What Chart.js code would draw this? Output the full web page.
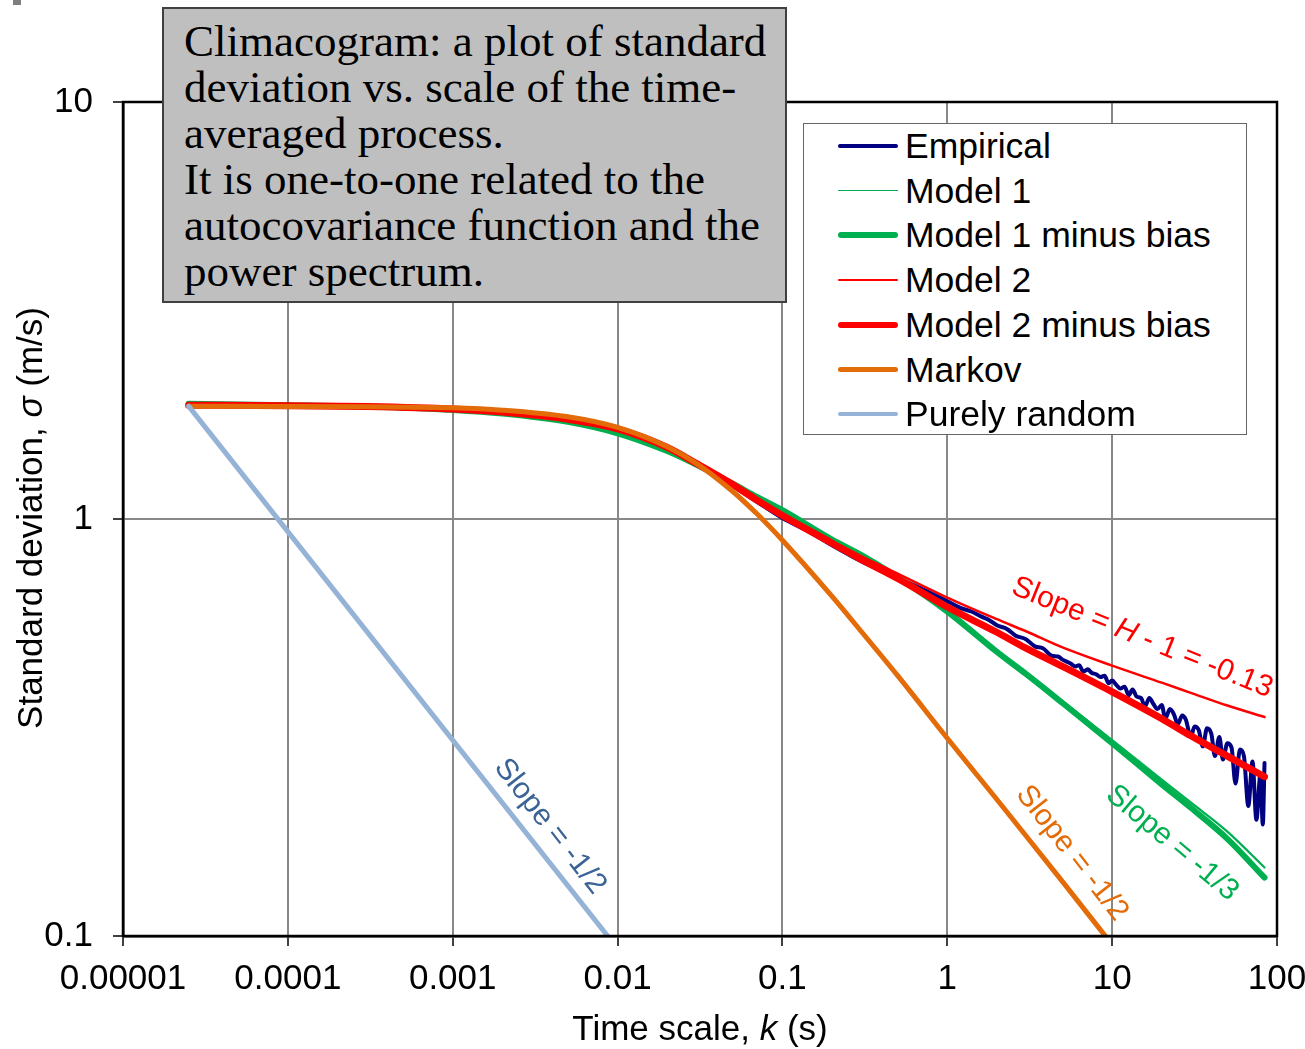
<!DOCTYPE html>
<html>
<head>
<meta charset="utf-8">
<script src="https://cdn.jsdelivr.net/npm/chart.js@4.4.1/dist/chart.umd.min.js"></script>
<style>
  body { margin: 0; background: #fff; }
  #wrap { position: relative; width: 1305px; height: 1049px; overflow: hidden; font-family: "Liberation Sans", Arial, sans-serif; }
  #c { position: absolute; left: 0; top: 0; }
  .note {
    position: absolute; left: 162px; top: 7px; width: 625px; height: 296px; box-sizing: border-box;
    background: #bfbfbf; border: 2px solid #404040;
    font-family: "Liberation Serif", serif; font-size: 45px; line-height: 46px; color: #000;
    padding: 9px 0 0 20px; white-space: nowrap;
  }
  .legend {
    position: absolute; left: 803px; top: 123px; width: 444px; height: 312px; box-sizing: border-box;
    background: #fff; border: 1.5px solid #666;
  }
  .legend .row { position: absolute; left: 0; height: 44px; line-height: 44px; font-size: 35.5px; }
  .legend .swatch { position: absolute; left: 34px; width: 60px; border-radius: 3px; }
  .legend .lbl { position: absolute; left: 101px; top: 0; white-space: nowrap; }
  .axis-title { position: absolute; font-size: 35px; line-height: 44px; height: 44px; text-align: center; white-space: nowrap; }
  .corner { position: absolute; left: 13px; top: 0; width: 8px; height: 5px; background: #7f7f7f; }
</style>
</head>
<body>
<div id="wrap">
  <canvas id="c" width="1305" height="1049"></canvas>
  <div class="corner"></div>
  <div class="note">Climacogram: a plot of standard<br>deviation vs. scale of the time-<br>averaged process.<br>It is one-to-one related to the<br>autocovariance function and the<br>power spectrum.</div>
  <div class="legend" id="legend"></div>
  <div class="axis-title" style="left:400px; top:1006px; width:600px;">Time scale, <i>k</i> (s)</div>
  <div class="axis-title" style="left:-270px; top:496px; width:600px; transform: rotate(-90deg);">Standard deviation, <i>σ</i> (m/s)</div>
</div>
<script>
// axis ticks
const xTicks = [1e-5, 1e-4, 1e-3, 1e-2, 1e-1, 1, 10, 100];
const xTickLabels = ['0.00001', '0.0001', '0.001', '0.01', '0.1', '1', '10', '100'];
const yTicks = [0.1, 1, 10];
const yTickLabels = ['0.1', '1', '10'];

// empirical climacogram
const scaleEmp = [2.5e-5, 1e-4, 3e-4, 1e-3, 2e-3, 4e-3, 7e-3, 0.01, 0.015, 0.02, 0.03, 0.04, 0.05, 0.07,
  0.1, 0.15, 0.2, 0.3, 0.4, 0.5, 0.7, 1, 1.2, 1.4, 1.6, 1.8, 2, 2.3, 2.6, 3, 3.4, 3.8, 4.3, 4.7,
  5, 5.3, 5.6, 6, 6.3, 6.7, 7.1, 7.5, 8, 8.5, 9, 9.5, 10, 10.6, 11.2, 11.9, 12.6, 13.3, 14.1, 15, 15.8,
  16.8, 17.8, 18.8, 20, 21, 22.4, 23.7, 25, 26.6, 28, 30, 31.6, 33.5, 35.5, 37.6, 40, 42, 44.7, 47, 50,
  53, 56, 59.6, 63, 67, 71, 75, 79.4, 82, 84];
const sigmaEmp = [1.875, 1.87, 1.86, 1.835, 1.805, 1.75, 1.69, 1.64, 1.555, 1.48, 1.355, 1.27, 1.2, 1.1,
  1.005, 0.925, 0.865, 0.792, 0.752, 0.722, 0.68, 0.635, 0.612, 0.6, 0.584, 0.572, 0.556, 0.545, 0.525, 0.515, 0.495, 0.49, 0.47, 0.468,
  0.46, 0.455, 0.45, 0.443, 0.446, 0.43, 0.436, 0.428, 0.424, 0.418, 0.421, 0.404, 0.41, 0.4, 0.392, 0.396, 0.378, 0.39, 0.375, 0.372, 0.355,
  0.372, 0.36, 0.35, 0.358, 0.332, 0.35, 0.34, 0.322, 0.338, 0.33, 0.3, 0.318, 0.312, 0.285, 0.315, 0.305, 0.27, 0.3, 0.265, 0.29,
  0.283, 0.232, 0.28, 0.27, 0.205, 0.262, 0.19, 0.245, 0.185, 0.26];

// fitted models
const scaleModel = [2.5e-5, 1e-4, 3e-4, 1e-3, 2e-3, 5e-3, 0.01, 0.02, 0.03, 0.05, 0.07, 0.1, 0.2, 0.3, 0.5, 1, 2, 3, 5, 10, 20, 30, 50, 84];
const sigmaModel1 = [1.89, 1.875, 1.86, 1.825, 1.79, 1.71, 1.605, 1.455, 1.35, 1.215, 1.13, 1.05, 0.895, 0.822, 0.728, 0.602, 0.483, 0.428, 0.366, 0.295, 0.237, 0.209, 0.178, 0.146];
const sigmaModel1MinusBias = [1.89, 1.875, 1.86, 1.825, 1.79, 1.71, 1.605, 1.455, 1.35, 1.215, 1.13, 1.05, 0.893, 0.82, 0.725, 0.6, 0.48, 0.425, 0.362, 0.29, 0.231, 0.203, 0.171, 0.138];
const sigmaModel2 = [1.875, 1.87, 1.86, 1.835, 1.805, 1.735, 1.645, 1.485, 1.365, 1.215, 1.115, 1.025, 0.885, 0.815, 0.74, 0.648, 0.575, 0.538, 0.492, 0.445, 0.405, 0.383, 0.357, 0.335];
const sigmaModel2MinusBias = [1.875, 1.87, 1.86, 1.835, 1.805, 1.735, 1.645, 1.485, 1.36, 1.21, 1.11, 1.02, 0.875, 0.8, 0.72, 0.615, 0.535, 0.49, 0.443, 0.385, 0.332, 0.302, 0.27, 0.241];

const scaleMarkov = [2.5e-5, 1e-4, 3e-4, 1e-3, 2e-3, 5e-3, 0.01, 0.02, 0.03, 0.05, 0.07, 0.1, 0.2, 0.3, 0.5, 1, 2, 3, 5, 10];
const sigmaMarkov = [1.865, 1.862, 1.858, 1.848, 1.824, 1.758, 1.658, 1.49, 1.36, 1.164, 1.029, 0.889, 0.652, 0.538, 0.421, 0.298, 0.2125, 0.174, 0.135, 0.0953];

const scaleRandom = [2.5e-5, 0.01];
const sigmaRandom = [1.865, 0.0933];

// slope labels, placed at data coordinates
const slopeNotes = [
  { x: 0.00389, y: 0.183, angle: 52, color: '#3b6396', parts: [['Slope = -1/2', false]] },
  { x: 5.7, y: 0.158, angle: 52, color: '#e36c09', parts: [['Slope = -1/2', false]] },
  { x: 23.1, y: 0.167, angle: 40, color: '#00b050', parts: [['Slope = -1/3', false]] },
  { x: 15.2, y: 0.519, angle: 22, color: '#ff0000', parts: [['Slope = ', false], ['H', true], [' - 1 = -0.13', false]] },
];

const pts = (xs, ys) => xs.map((x, i) => ({ x: x, y: ys[i] }));

const datasets = [
  { label: 'Empirical', data: pts(scaleEmp, sigmaEmp), borderColor: '#000080', borderWidth: 4, order: 6, legendWidth: 3.5 },
  { label: 'Model 1', data: pts(scaleModel, sigmaModel1), borderColor: '#00b050', borderWidth: 2.25, order: 5, legendWidth: 1.5 },
  { label: 'Model 1 minus bias', data: pts(scaleModel, sigmaModel1MinusBias), borderColor: '#00b050', borderWidth: 6, order: 4, legendWidth: 6 },
  { label: 'Model 2', data: pts(scaleModel, sigmaModel2), borderColor: '#ff0000', borderWidth: 2.5, order: 3, legendWidth: 2 },
  { label: 'Model 2 minus bias', data: pts(scaleModel, sigmaModel2MinusBias), borderColor: '#ff0000', borderWidth: 7, order: 2, legendWidth: 6 },
  { label: 'Markov', data: pts(scaleMarkov, sigmaMarkov), borderColor: '#e36c09', borderWidth: 5, order: 1, legendWidth: 4.5 },
  { label: 'Purely random', data: pts(scaleRandom, sigmaRandom), borderColor: '#95b3d7', borderWidth: 5, order: 0, legendWidth: 4.5 },
];
datasets.forEach(d => {
  d.pointRadius = 0;
  d.fill = false;
  d.cubicInterpolationMode = 'monotone';
  d.borderCapStyle = 'round';
  d.borderJoinStyle = 'round';
});

// legend built from the datasets
const legend = document.getElementById('legend');
datasets.forEach((d, i) => {
  const row = document.createElement('div');
  row.className = 'row';
  row.style.top = (0 + 44.7 * i) + 'px';
  row.style.width = '440px';
  const sw = document.createElement('div');
  sw.className = 'swatch';
  sw.style.background = d.borderColor;
  sw.style.height = d.legendWidth + 'px';
  sw.style.top = (22 - d.legendWidth / 2) + 'px';
  const lbl = document.createElement('div');
  lbl.className = 'lbl';
  lbl.textContent = d.label;
  row.appendChild(sw);
  row.appendChild(lbl);
  legend.appendChild(row);
});

const framePlugin = {
  id: 'frame',
  afterDatasetsDraw(chart) {
    const ctx = chart.ctx;
    const a = chart.chartArea;
    const xs = chart.scales.x, ys = chart.scales.y;
    ctx.save();
    ctx.beginPath();
    ctx.rect(a.left, a.top, a.right - a.left, a.bottom - a.top);
    ctx.clip();
    slopeNotes.forEach(n => {
      const px = xs.getPixelForValue(n.x), py = ys.getPixelForValue(n.y);
      ctx.save();
      ctx.translate(px, py);
      ctx.rotate(n.angle * Math.PI / 180);
      ctx.fillStyle = n.color;
      ctx.textBaseline = 'middle';
      const font = it => (it ? 'italic ' : '') + '30px "Liberation Sans", Arial, sans-serif';
      let total = 0;
      n.parts.forEach(p => { ctx.font = font(p[1]); total += ctx.measureText(p[0]).width; });
      let cx = -total / 2;
      n.parts.forEach(p => {
        ctx.font = font(p[1]);
        ctx.fillText(p[0], cx, 0);
        cx += ctx.measureText(p[0]).width;
      });
      ctx.restore();
    });
    ctx.restore();
    ctx.save();
    ctx.strokeStyle = '#000';
    ctx.lineWidth = 2.5;
    ctx.strokeRect(a.left, a.top, a.right - a.left, a.bottom - a.top);
    ctx.restore();
  }
};

new Chart(document.getElementById('c'), {
  type: 'line',
  data: { datasets: datasets },
  options: {
    responsive: false,
    animation: false,
    devicePixelRatio: 1,
    layout: { padding: { left: 0, top: 102, right: 28, bottom: 0 } },
    plugins: { legend: { display: false }, tooltip: { enabled: false } },
    scales: {
      x: {
        type: 'logarithmic',
        min: 1e-5, max: 100,
        afterBuildTicks: s => { s.ticks = xTicks.map(v => ({ value: v })); },
        // fixed height, and let the "100" label hang into the right margin
        afterFit: s => { s.height = 113; s.paddingLeft = 0; s.paddingRight = 0; },
        ticks: {
          autoSkip: false, maxRotation: 0, padding: 12, color: '#000',
          font: { family: '"Liberation Sans", Arial, sans-serif', size: 35 },
          callback: (v, i) => xTickLabels[i]
        },
        grid: { color: '#888', lineWidth: 2, tickLength: 10, tickColor: '#000', tickWidth: 1.5 },
        border: { color: '#000', width: 2.5 }
      },
      y: {
        type: 'logarithmic',
        min: 0.1, max: 10,
        afterBuildTicks: s => { s.ticks = yTicks.map(v => ({ value: v })); },
        afterFit: s => { s.width = 123; s.paddingTop = 0; s.paddingBottom = 0; },
        ticks: {
          autoSkip: false, padding: 20, color: '#000',
          font: { family: '"Liberation Sans", Arial, sans-serif', size: 35 },
          callback: (v, i) => yTickLabels[i]
        },
        grid: { color: '#888', lineWidth: 2, tickLength: 10, tickColor: '#000', tickWidth: 1.5 },
        border: { color: '#000', width: 2.5 }
      }
    }
  },
  plugins: [framePlugin]
});
</script>
</body>
</html>
